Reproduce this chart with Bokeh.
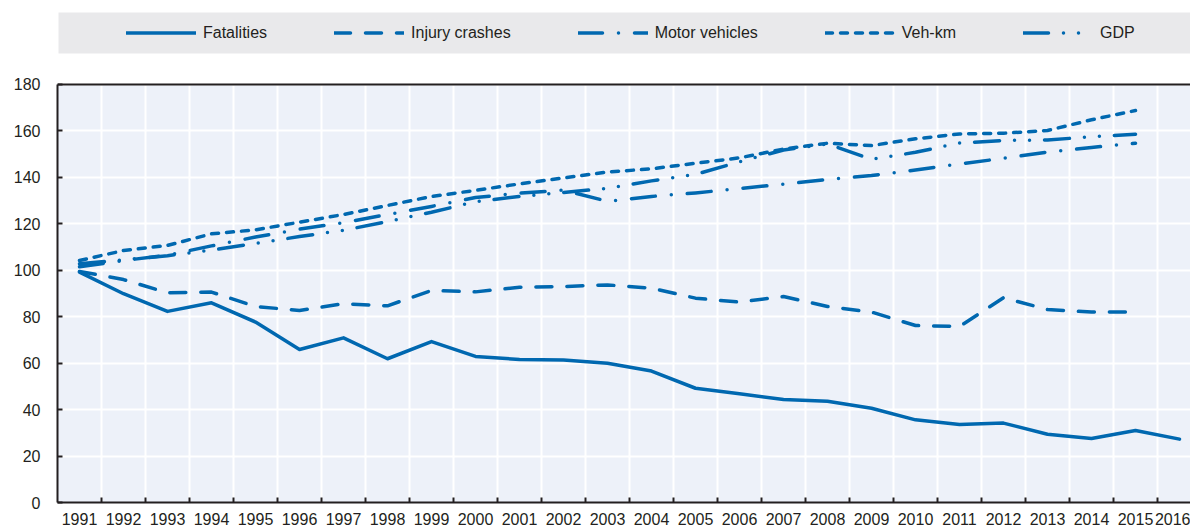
from bokeh.plotting import figure
from bokeh.models import Range1d, FixedTicker, Legend, LegendItem, BoxAnnotation, Span
from bokeh.embed import file_html
from bokeh.resources import INLINE

years = [1991, 1992, 1993, 1994, 1995, 1996, 1997, 1998, 1999, 2000, 2001, 2002, 2003,
         2004, 2005, 2006, 2007, 2008, 2009, 2010, 2011, 2012, 2013, 2014, 2015, 2016]

fatalities = [99.2, 89.9, 82.3, 86.0, 77.7, 65.9, 70.9, 61.9, 69.3, 62.9, 61.6, 61.4, 60.0,
              56.6, 49.2, 46.8, 44.4, 43.6, 40.6, 35.6, 33.6, 34.2, 29.4, 27.6, 31.0, 27.3]
injury_crashes = [99.5, 96.0, 90.3, 90.6, 84.4, 82.7, 85.6, 84.7, 91.3, 90.7, 92.7, 93.0, 93.7,
                  92.3, 88.0, 86.3, 88.7, 84.4, 82.0, 76.2, 75.8, 88.2, 83.1, 82.0, 82.0]
motor_vehicles = [101.5, 104.2, 106.5, 110.5, 114.3, 117.7, 120.5, 124.0, 127.5, 131.3, 133.2, 134.5, 129.7,
                  131.8, 133.3, 135.2, 137.1, 139.1, 140.8, 143.2, 145.8, 148.2, 150.9, 152.9, 154.7]
veh_km = [104.2, 108.5, 110.7, 115.7, 117.4, 120.7, 124.0, 127.9, 131.8, 134.4, 137.2, 139.8, 142.3,
          143.7, 146.1, 148.4, 152.2, 154.7, 153.7, 156.6, 158.7, 159.0, 160.2, 164.8, 168.8]
gdp = [102.8, 104.5, 106.3, 108.7, 111.6, 114.5, 117.2, 121.0, 125.0, 129.5, 131.8, 133.5, 135.3,
       138.5, 141.3, 146.7, 151.8, 154.4, 147.8, 150.8, 154.8, 155.9, 156.1, 157.5, 158.6]

y_ticks = [0, 20, 40, 60, 80, 100, 120, 140, 160, 180]

BLUE = "#0068B0"
TEXT = "#231F20"
AXIS = "#231F20"
PLOT_BG = "#EDF1F9"
LEGEND_BG = "#E9E9EB"
FONT = "Liberation Sans"

# the frame reaches up to the top of the canvas so the legend band can sit inside it;
# the value axis itself runs from 0 to 180 only
p = figure(width=1190, height=527, output_backend="svg", toolbar_location=None,
           x_range=Range1d(1990.5, 2016.25), y_range=Range1d(0, 216.17),
           min_border_left=57, min_border_right=0, min_border_top=0, min_border_bottom=0,
           background_fill_color="white", border_fill_color="white", outline_line_color=None)

# plot-area background (0..180 only)
plot_bg = BoxAnnotation(bottom=y_ticks[0], top=y_ticks[-1], fill_color=PLOT_BG, fill_alpha=1,
                        line_color=None, level="image")
p.add_layout(plot_bg)

boundaries = [y + 0.5 for y in years]

# grids
p.xgrid.ticker = FixedTicker(ticks=boundaries)
p.ygrid.ticker = FixedTicker(ticks=y_ticks)
for g in (p.xgrid, p.ygrid):
    g.grid_line_color = "white"
    g.grid_line_width = 2

# x axis
xa = p.xaxis[0]
xa.ticker = FixedTicker(ticks=years, minor_ticks=boundaries)
xa.major_tick_line_color = None
xa.major_tick_in = 0
xa.major_tick_out = 0
xa.minor_tick_in = 5
xa.minor_tick_out = 0
xa.minor_tick_line_color = AXIS
xa.minor_tick_line_width = 2
xa.axis_line_color = AXIS
xa.axis_line_width = 2
xa.major_label_standoff = 10
xa.major_label_text_font = FONT
xa.major_label_text_font_size = "16px"
xa.major_label_text_color = TEXT

# y axis
ya = p.yaxis[0]
ya.ticker = FixedTicker(ticks=y_ticks)
ya.bounds = (y_ticks[0], y_ticks[-1])
ya.major_tick_in = 5
ya.major_tick_out = 0
ya.major_tick_line_color = AXIS
ya.major_tick_line_width = 2
ya.minor_tick_line_color = None
ya.axis_line_color = AXIS
ya.axis_line_width = 2
ya.major_label_standoff = 17
ya.major_label_text_font = FONT
ya.major_label_text_font_size = "16px"
ya.major_label_text_color = TEXT

# top border of the plot area
p.add_layout(Span(location=y_ticks[-1], dimension="width", line_color=AXIS, line_width=2))

series = [
    ("Fatalities", fatalities, "solid"),
    ("Injury crashes", injury_crashes, "16 15"),
    ("Motor vehicles", motor_vehicles, "24 16 0 16"),
    ("Veh-km", veh_km, "7 8"),
    ("GDP", gdp, "25 15 0 15 0 15"),
]

items = []
for name, vals, dash in series:
    r = p.line(years[:len(vals)], vals, line_color=BLUE, line_width=3.5, line_dash=dash,
               line_cap="round", line_join="round")
    items.append(LegendItem(label=name, renderers=[r]))

# grey legend band
band = BoxAnnotation(left=58, right=1190, top=12, bottom=53,
                     left_units="canvas", right_units="canvas", top_units="canvas", bottom_units="canvas",
                     fill_color=LEGEND_BG, fill_alpha=1, line_color=None, level="underlay")
p.add_layout(band)

legend = Legend(items=items, orientation="horizontal", location=(69, 459),
                background_fill_color=LEGEND_BG, background_fill_alpha=1,
                border_line_color=None, padding=10, margin=0,
                spacing=67, glyph_width=70, glyph_height=21, label_height=21, label_standoff=7,
                label_text_font=FONT, label_text_font_size="16px", label_text_color=TEXT)
p.add_layout(legend, "center")

open("out.html", "w").write(file_html(p, INLINE))
